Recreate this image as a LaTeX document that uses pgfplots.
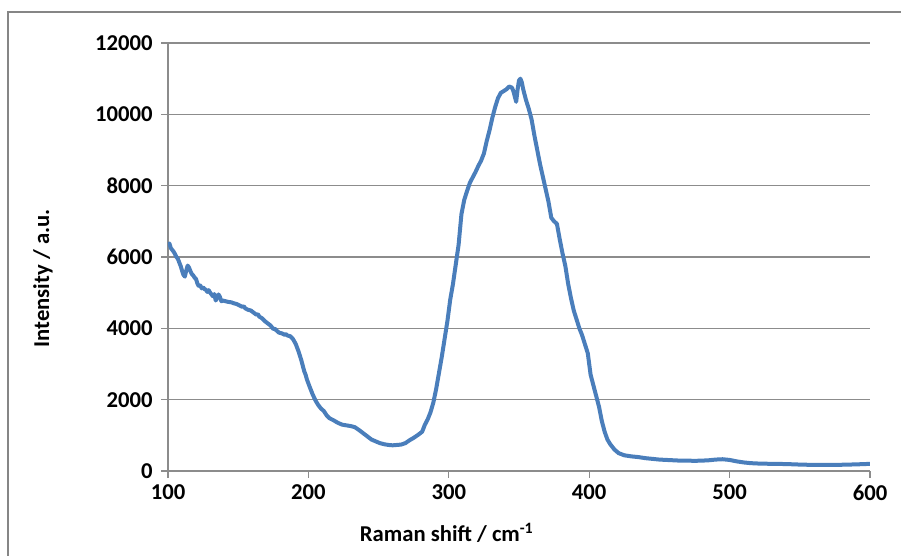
\documentclass[border=0pt]{standalone}
\usepackage{fontspec}
\setmainfont{Carlito}
\usepackage{pgfplots}
\pgfplotsset{compat=1.18}
\usepackage{pgfplotstable}
\definecolor{excelblue}{HTML}{4A7EBB}
\definecolor{gridgray}{HTML}{8C8C8C}
\definecolor{framegray}{HTML}{868686}
\pgfplotstableread{
x y
100 6350
101 6380
102 6250
103 6200
104 6150
105 6080
106 6000
107 5950
108 5850
109 5750
110 5620
111 5500
112 5450
113 5620
114 5760
115 5700
116 5600
117 5520
118 5480
119 5420
120 5380
121 5250
122 5180
123 5200
124 5120
125 5150
126 5100
127 5080
128 5020
129 5070
130 5000
131 4950
132 4900
133 4960
134 4780
135 4850
136 4950
137 4880
138 4760
139 4780
141 4760
143 4740
145 4730
147 4700
149 4680
151 4640
153 4600
154 4620
155 4560
157 4520
159 4500
161 4440
163 4380
164 4400
165 4330
167 4280
169 4200
171 4140
173 4080
175 3980
176 3990
177 3950
179 3880
181 3860
183 3820
184 3840
185 3800
187 3780
189 3700
191 3560
193 3350
195 3100
197 2800
198 2700
199 2560
201 2350
203 2150
205 1980
207 1850
209 1750
211 1680
213 1560
215 1480
218 1420
221 1350
224 1300
227 1280
230 1260
233 1230
236 1150
239 1060
242 970
245 880
248 830
251 780
254 750
257 730
260 720
263 730
266 740
269 780
272 860
275 930
278 1010
281 1100
283 1300
285 1450
287 1650
289 1920
291 2300
293 2750
295 3200
297 3700
299 4200
301 4800
303 5250
305 5800
307 6350
309 7200
311 7600
313 7850
315 8080
317 8230
319 8380
321 8550
323 8700
325 8900
327 9250
329 9550
331 9900
333 10200
335 10450
337 10600
339 10650
341 10700
343 10780
345 10750
346 10650
347 10500
348 10350
349 10700
350 10950
351 11000
352 10900
353 10700
355 10400
357 10150
359 9850
361 9400
363 9000
365 8600
367 8250
369 7900
371 7550
373 7100
375 7000
377 6930
379 6500
381 6100
383 5750
385 5250
387 4850
389 4500
391 4250
393 4000
395 3800
397 3550
399 3300
401 2700
403 2400
405 2100
407 1800
409 1400
411 1100
413 880
415 750
418 600
421 500
425 440
430 410
435 390
440 360
445 340
450 320
455 310
460 300
465 290
470 290
475 285
480 290
485 300
490 320
495 330
500 310
505 270
510 240
515 220
520 210
530 200
540 195
550 180
560 170
570 170
580 175
590 185
600 200
}\spectrum
\begin{document}
\begin{tikzpicture}
\useasboundingbox (0,0) rectangle (675.75pt,417pt);
\draw[framegray, line width=1.1pt] (6pt,0) -- (6pt,408pt) -- (675.75pt,408pt);
\begin{axis}[
  at={(126pt,63.75pt)}, anchor=south west,
  scale only axis, width=526.5pt, height=321pt,
  xmin=100, xmax=600, ymin=0, ymax=12000,
  xtick={100,200,...,600}, ytick={0,2000,...,12000},
  scaled y ticks=false, scaled x ticks=false,
  axis x line*=bottom, axis y line*=left,
  axis line style={gridgray, line width=0.8pt, -},
  ymajorgrids, grid style={gridgray, line width=0.8pt},
  tick style={gridgray, line width=0.8pt},
  tick align=outside, major tick length=5pt,
  /pgf/number format/assume math mode=true,
  /pgf/number format/1000 sep={},
  ticklabel style={font=\bfseries\fontsize{17}{20}\selectfont},
  xticklabel style={yshift=-2pt},
  yticklabel style={xshift=-3pt},
  xlabel={Raman shift / cm\textsuperscript{-1}},
  ylabel={Intensity / a.u.},
  label style={font=\bfseries\fontsize{17}{20}\selectfont},
  xlabel style={at={(axis description cs:0.397,-0.1449)}, anchor=center},
  ylabel style={at={(axis description cs:-0.178,0.45)}, anchor=center},
]
\addplot[excelblue, line width=3pt, line join=round] table[x=x,y=y] {\spectrum};
\end{axis}
\end{tikzpicture}
\end{document}
